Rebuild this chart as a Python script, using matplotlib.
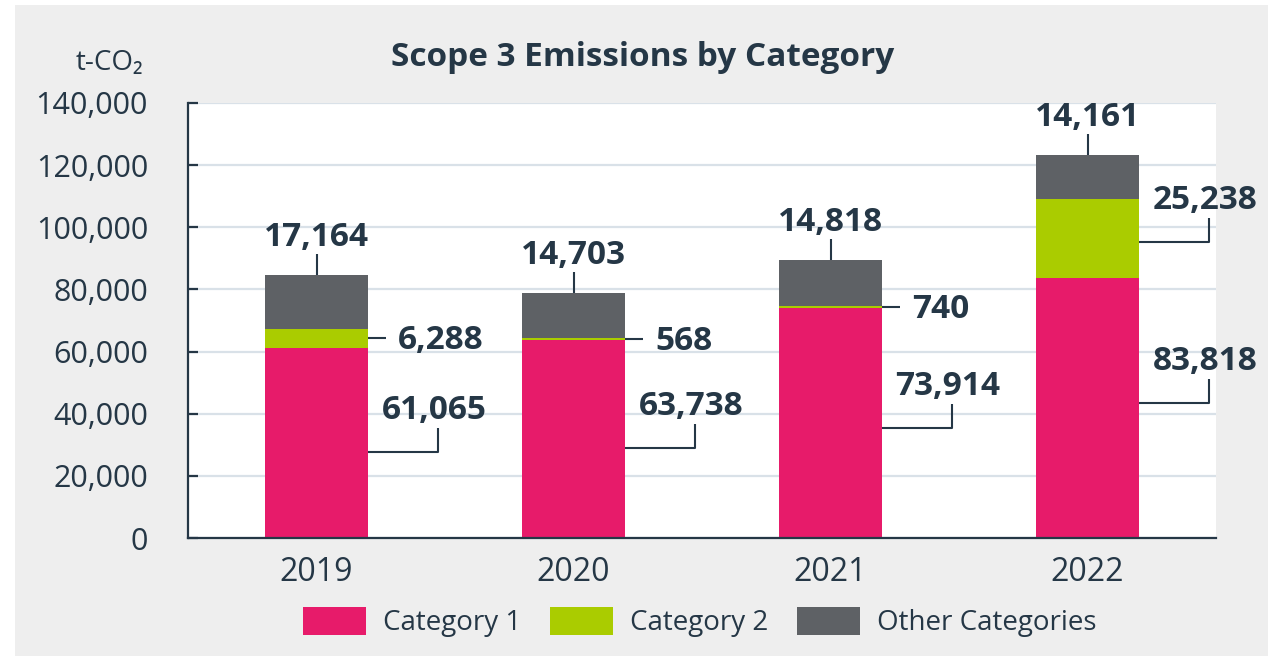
import numpy as np
import matplotlib
matplotlib.use('Agg')
import matplotlib.pyplot as plt
from matplotlib.patches import Rectangle
from matplotlib.ticker import FuncFormatter

plt.rcParams['font.family'] = ['Open Sans', 'DejaVu Sans']

# data
years = ['2019', '2020', '2021', '2022']
cat1 = np.array([61065, 63738, 73914, 83818])
cat2 = np.array([6288, 568, 740, 25238])
other = np.array([17164, 14703, 14818, 14161])
series_names = ['Category 1', 'Category 2', 'Other Categories']

# layout for leader lines (y where the elbow leader leaves the bar)
cat1_lead_y = [27700, 29000, 35400, 43400]
cat2_lead_y = [None, None, None, 95300]

DARK = '#253746'
C1, C2, C3 = '#E71B6A', '#AACC00', '#5E6165'
W, H = 1276, 656

fig = plt.figure(figsize=(W / 100, H / 100), dpi=100, facecolor='white')
fig.patches.append(Rectangle((15 / W, 0), (1268 - 15) / W, (H - 5) / H,
                             transform=fig.transFigure, facecolor='#EEEEEE',
                             edgecolor='none', zorder=-10))
ax = fig.add_axes([188 / W, 118 / H, 1028 / W, 435 / H])
ax.set_facecolor('white')

x = np.arange(len(years))
bw = 0.4
b1 = ax.bar(x, cat1, bw, color=C1, zorder=3)
b2 = ax.bar(x, cat2, bw, bottom=cat1, color=C2, zorder=3)
b3 = ax.bar(x, other, bw, bottom=cat1 + cat2, color=C3, zorder=3)

ax.set_xlim(-0.5, 3.5)
ax.set_ylim(0, 140000)
ax.set_yticks(range(0, 140001, 20000))
ax.yaxis.set_major_formatter(FuncFormatter(lambda v, p: f'{v:,.0f}'))
ax.set_xticks(x)
ax.set_xticklabels(years)
ax.grid(axis='y', color='#D9E1E8', lw=1.6, zorder=0)
ax.set_axisbelow(True)
for s in ['top', 'right']:
    ax.spines[s].set_visible(False)
for s in ['left', 'bottom']:
    ax.spines[s].set_color(DARK)
    ax.spines[s].set_linewidth(1.6)
    ax.spines[s].set_zorder(4)
ax.tick_params(axis='y', direction='in', length=7.5, width=1.6, color=DARK,
               pad=28.8, labelsize=22, labelcolor=DARK)
ax.tick_params(axis='x', length=0, pad=13, labelsize=23, labelcolor=DARK)


def off(xd, yd, dx, dy):
    X, Y = ax.transData.transform((xd, yd))
    return ax.transData.inverted().transform((X + dx, Y + dy))


lab = dict(color=DARK, fontsize=24, fontweight='bold', zorder=6)
line = dict(color=DARK, lw=1.5, zorder=5, solid_capstyle='butt')


def elbow(xr, y0, val):
    p1 = off(xr, y0, 70, 0)
    p2 = off(xr, y0, 70, 24)
    ax.plot([xr, p1[0], p2[0]], [y0, p1[1], p2[1]], **line)
    t = off(xr, y0, 66, 33)
    ax.text(t[0], t[1], f'{val:,}', ha='center', va='baseline', **lab)


for i in range(len(years)):
    xr = x[i] + bw / 2
    total = cat1[i] + cat2[i] + other[i]
    # other categories: vertical leader above bar
    p = off(x[i], total, 0, 21)
    ax.plot([x[i], p[0]], [total, p[1]], **line)
    t = off(x[i], total, 0, 29)
    ax.text(t[0], t[1], f'{other[i]:,}', ha='center', va='baseline', **lab)
    # category 2
    if cat2_lead_y[i] is None:
        ym = cat1[i] + cat2[i] / 2
        p = off(xr, ym, 18, 0)
        ax.plot([xr, p[0]], [ym, ym], **line)
        t = off(xr, ym, 30, -11)
        ax.text(t[0], t[1], f'{cat2[i]:,}', ha='left', va='baseline', **lab)
    else:
        elbow(xr, cat2_lead_y[i], cat2[i])
    # category 1
    elbow(xr, cat1_lead_y[i], cat1[i])

fig.text(643 / W, 1 - 58 / H, 'Scope 3 Emissions by Category', ha='center',
         va='center', fontsize=24, fontweight='bold', color=DARK)
fig.text(143 / W, 1 - 63 / H, 't-CO\u2082', ha='right', va='center',
         fontsize=20, color=DARK)

fig.legend([b1, b2, b3], series_names, loc='center',
           bbox_to_anchor=(700 / W, 1 - 622 / H), ncol=3, frameon=False,
           fontsize=20, handlelength=2.27, handleheight=1.22,
           handletextpad=0.61, columnspacing=1.04, labelcolor=DARK,
           borderaxespad=0, borderpad=0)

fig.savefig('out.png', dpi=100, facecolor=fig.get_facecolor())
